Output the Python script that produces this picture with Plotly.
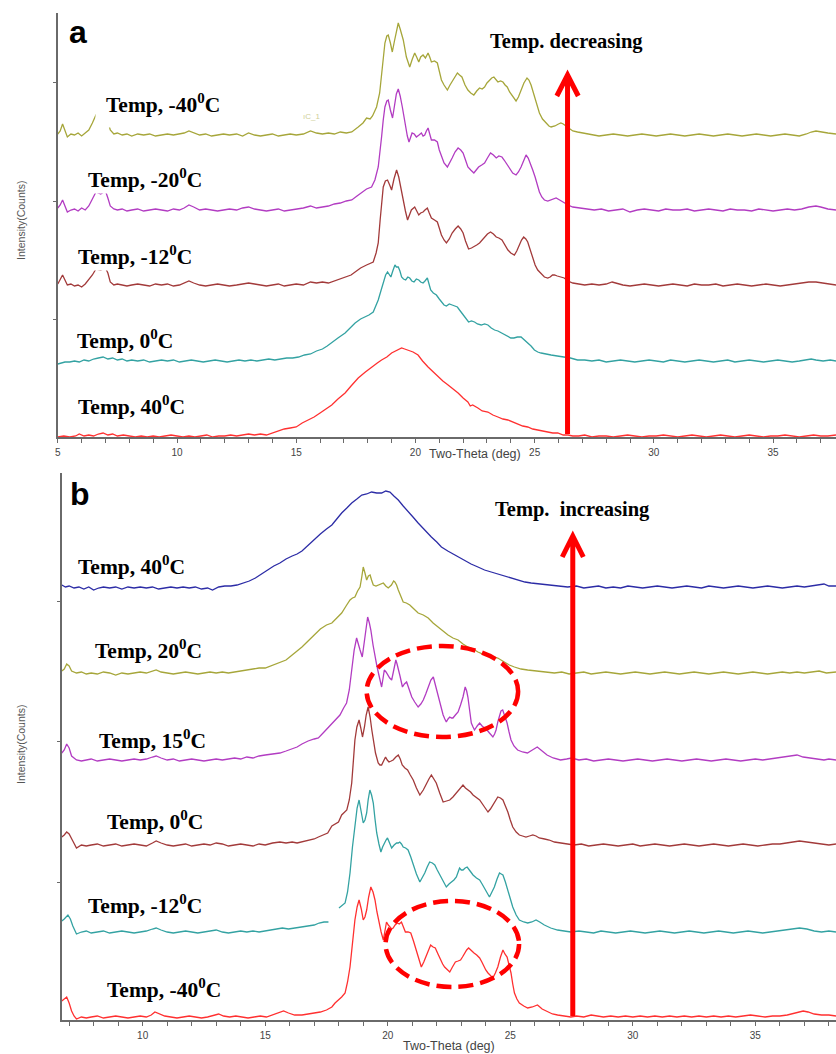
import plotly.graph_objects as go

W, H = 836, 1054

# ---------------- Panel a : cooling run (2-theta in deg, counts above own baseline) ----------------
A_M40 = [(5.0,1),(5.1,4),(5.2,11),(5.3,5),(5.4,-2),(5.55,1),(5.7,0),(5.85,2),(6.0,-1),(6.15,2),(6.3,5),(6.45,12),(6.6,20),(6.8,17),(7.0,20),(7.1,14),(7.2,5),(7.35,1),(7.5,2),(7.7,0),(7.9,1),(8.1,-1),(8.35,1),(8.6,0),(8.85,1),(9.1,-1),(9.35,0),(9.6,1),(9.85,0),(10.1,1),(10.3,2),(10.5,4),(10.7,2),(10.95,0),(11.2,1),(11.45,-1),(11.7,0),(11.95,1),(12.2,0),(12.5,1),(12.75,-1),(13.0,2),(13.25,0),(13.5,-1),(13.75,0),(14.0,1),(14.25,-1),(14.5,0),(14.75,1),(15.0,0),(15.3,1),(15.6,4),(15.85,2),(16.1,1),(16.35,2),(16.6,1),(16.85,3),(17.1,2),(17.33,3),(17.6,8),(17.8,12),(17.95,17),(18.1,16),(18.2,19),(18.37,28),(18.5,42),(18.58,58),(18.66,78),(18.72,92),(18.8,99),(18.86,100),(18.95,92),(19.03,83),(19.12,94),(19.22,108),(19.28,112),(19.36,106),(19.49,95),(19.62,78),(19.76,68),(19.87,76),(19.97,82),(20.05,78),(20.14,73),(20.22,78),(20.32,80),(20.42,77),(20.53,82),(20.6,78),(20.67,73),(20.8,74),(20.92,72),(21.0,64),(21.09,55),(21.2,50),(21.34,45),(21.45,50),(21.58,55),(21.68,60),(21.76,62),(21.85,60),(21.95,58),(22.08,50),(22.2,45),(22.32,42),(22.45,40),(22.57,44),(22.69,47),(22.8,46),(22.9,48),(23.0,52),(23.1,55),(23.2,57),(23.29,58),(23.38,55),(23.46,53),(23.57,54),(23.67,53),(23.76,50),(23.85,48),(23.95,43),(24.08,38),(24.15,36),(24.22,34),(24.32,38),(24.43,45),(24.55,52),(24.68,57),(24.76,55),(24.85,50),(24.93,43),(25.02,35),(25.1,28),(25.2,22),(25.33,16),(25.48,12),(25.6,9),(25.69,8),(25.85,9),(26.0,11),(26.1,12),(26.2,11),(26.31,9),(26.45,6),(26.6,4),(26.8,3),(27.0,2),(27.2,1),(27.45,0),(27.7,-1),(28.0,0),(28.3,1),(28.6,0),(28.9,-1),(29.2,0),(29.5,1),(29.8,0),(30.1,-1),(30.4,0),(30.7,1),(31.0,0),(31.3,-1),(31.6,0),(31.9,1),(32.2,0),(32.5,-1),(32.8,0),(33.1,1),(33.4,0),(33.7,-1),(34.0,0),(34.3,1),(34.6,0),(34.9,-1),(35.2,0),(35.5,1),(35.8,0),(36.1,-1),(36.4,1),(36.6,3),(36.8,4),(37.0,3),(37.3,2),(37.64,1)]

A_M20 = [(5.0,2),(5.1,5),(5.2,10),(5.3,4),(5.4,-2),(5.55,0),(5.7,1),(5.85,-1),(6.0,2),(6.15,0),(6.3,4),(6.45,11),(6.6,18),(6.8,16),(7.0,19),(7.1,12),(7.2,4),(7.35,1),(7.5,0),(7.7,1),(7.9,-1),(8.1,0),(8.35,1),(8.6,-1),(8.85,0),(9.1,1),(9.35,0),(9.6,-1),(9.85,1),(10.1,0),(10.3,2),(10.5,5),(10.7,3),(10.95,0),(11.2,1),(11.45,0),(11.7,-1),(11.95,0),(12.2,1),(12.5,0),(12.75,2),(13.0,3),(13.25,1),(13.5,0),(13.75,-1),(14.0,0),(14.25,1),(14.5,-1),(14.75,0),(15.0,1),(15.3,2),(15.6,4),(15.85,2),(16.1,3),(16.35,4),(16.6,6),(16.85,7),(17.1,9),(17.33,10),(17.55,14),(17.8,18),(17.95,21),(18.16,23),(18.3,30),(18.44,43),(18.52,58),(18.58,73),(18.65,90),(18.72,103),(18.8,109),(18.86,110),(18.95,100),(19.04,92),(19.12,104),(19.2,116),(19.28,121),(19.36,114),(19.45,103),(19.52,92),(19.59,83),(19.66,74),(19.73,68),(19.8,73),(19.86,77),(19.95,76),(20.04,73),(20.15,75),(20.25,77),(20.32,74),(20.39,75),(20.46,79),(20.53,82),(20.6,76),(20.67,70),(20.8,70),(20.92,68),(21.0,60),(21.09,53),(21.2,47),(21.34,43),(21.44,47),(21.54,52),(21.66,58),(21.79,62),(21.9,60),(22.0,57),(22.1,50),(22.2,43),(22.32,40),(22.45,37),(22.55,40),(22.65,43),(22.78,45),(22.9,47),(23.02,52),(23.15,57),(23.27,55),(23.39,52),(23.5,54),(23.63,53),(23.72,50),(23.81,47),(23.95,42),(24.08,37),(24.22,35),(24.32,38),(24.43,43),(24.55,50),(24.64,55),(24.73,52),(24.82,47),(24.92,40),(25.02,33),(25.1,25),(25.2,18),(25.3,13),(25.41,10),(25.55,9),(25.69,10),(25.8,11),(25.9,12),(26.05,10),(26.24,7),(26.4,5),(26.6,3),(26.9,2),(27.2,1),(27.5,0),(27.8,1),(28.1,-1),(28.4,0),(28.7,1),(29.0,-2),(29.3,0),(29.6,1),(29.9,0),(30.2,-1),(30.5,1),(30.8,0),(31.1,0),(31.4,1),(31.7,-1),(32.0,0),(32.3,1),(32.6,0),(32.9,-1),(33.2,1),(33.5,0),(33.8,0),(34.1,-1),(34.4,1),(34.7,0),(35.0,-1),(35.3,0),(35.6,1),(35.9,0),(36.2,1),(36.5,3),(36.8,4),(37.0,3),(37.3,1),(37.64,0)]

A_M12 = [(5.0,1),(5.1,5),(5.2,10),(5.3,5),(5.4,0),(5.55,1),(5.7,-1),(5.85,0),(6.0,-2),(6.15,1),(6.3,5),(6.45,10),(6.6,16),(6.8,15),(7.0,17),(7.1,12),(7.2,3),(7.35,0),(7.5,1),(7.7,0),(7.9,-1),(8.1,0),(8.35,1),(8.6,0),(8.85,-1),(9.1,1),(9.35,0),(9.6,1),(9.85,-1),(10.1,0),(10.3,2),(10.5,4),(10.7,2),(10.95,0),(11.2,-1),(11.45,0),(11.7,1),(11.95,0),(12.2,-1),(12.5,0),(12.75,1),(13.0,2),(13.25,1),(13.5,0),(13.75,-1),(14.0,0),(14.25,1),(14.5,-1),(14.75,0),(15.0,1),(15.3,0),(15.6,3),(15.85,2),(16.1,3),(16.35,2),(16.6,4),(16.85,6),(17.05,8),(17.3,10),(17.47,13),(17.7,17),(17.95,20),(18.1,22),(18.23,23),(18.35,32),(18.44,42),(18.52,65),(18.58,85),(18.65,98),(18.74,104),(18.83,105),(18.92,100),(19.0,95),(19.1,106),(19.21,115),(19.3,108),(19.4,95),(19.49,85),(19.58,74),(19.67,65),(19.75,71),(19.83,75),(19.97,78),(20.06,74),(20.14,70),(20.22,72),(20.32,73),(20.4,75),(20.5,77),(20.58,72),(20.67,67),(20.8,65),(20.92,63),(21.0,57),(21.09,50),(21.2,45),(21.3,42),(21.42,46),(21.54,52),(21.67,56),(21.79,59),(21.9,56),(22.0,52),(22.1,44),(22.23,36),(22.35,37),(22.45,38),(22.57,40),(22.69,42),(22.8,45),(22.9,48),(23.02,51),(23.15,53),(23.27,51),(23.39,48),(23.5,47),(23.63,45),(23.75,40),(23.88,35),(24.0,32),(24.15,30),(24.25,34),(24.36,40),(24.45,45),(24.54,48),(24.63,46),(24.71,43),(24.82,35),(24.92,27),(25.02,20),(25.13,15),(25.27,11),(25.41,8),(25.55,7),(25.65,8),(25.75,10),(25.83,10),(25.95,9),(26.1,8),(26.24,7),(26.4,4),(26.6,2),(26.85,1),(27.1,0),(27.4,1),(27.7,0),(28.0,1),(28.25,3),(28.4,2),(28.7,0),(29.0,-1),(29.3,0),(29.6,1),(29.9,0),(30.2,-1),(30.5,0),(30.8,1),(31.1,0),(31.4,-1),(31.7,1),(32.0,0),(32.3,0),(32.6,1),(32.9,-1),(33.2,0),(33.5,1),(33.8,0),(34.1,-1),(34.4,0),(34.7,1),(35.0,0),(35.3,-1),(35.6,0),(35.9,1),(36.2,2),(36.5,3),(36.8,3),(37.1,2),(37.4,1),(37.64,0)]

A_0 = [(5.0,-3),(5.15,-2),(5.3,-1),(5.5,-1),(5.7,0),(5.9,-1),(6.1,1),(6.3,0),(6.5,2),(6.7,3),(6.9,4),(7.1,2),(7.3,3),(7.5,1),(7.7,2),(7.9,0),(8.1,1),(8.35,0),(8.6,1),(8.85,-1),(9.1,0),(9.35,1),(9.6,0),(9.85,1),(10.1,-1),(10.35,0),(10.6,1),(10.85,0),(11.1,-1),(11.35,0),(11.6,1),(11.85,0),(12.1,-1),(12.35,0),(12.6,1),(12.85,0),(13.1,1),(13.35,0),(13.6,1),(13.85,2),(14.1,1),(14.35,2),(14.6,3),(14.85,3),(15.1,4),(15.35,6),(15.6,7),(15.85,10),(16.1,12),(16.3,15),(16.49,18),(16.75,23),(17.05,28),(17.25,33),(17.47,38),(17.7,42),(17.88,44),(18.05,46),(18.23,49),(18.35,55),(18.44,61),(18.55,70),(18.65,79),(18.75,86),(18.83,89),(18.9,86),(18.97,84),(19.05,90),(19.14,96),(19.2,94),(19.28,94),(19.35,90),(19.42,84),(19.5,82),(19.59,81),(19.68,84),(19.76,83),(19.85,80),(19.94,79),(20.04,82),(20.14,81),(20.22,79),(20.32,78),(20.4,80),(20.5,83),(20.57,77),(20.64,71),(20.75,68),(20.88,66),(21.0,62),(21.09,59),(21.2,56),(21.3,55),(21.42,57),(21.54,56),(21.65,55),(21.76,54),(21.85,51),(21.95,48),(22.1,43),(22.23,39),(22.35,40),(22.48,39),(22.6,37),(22.76,36),(22.9,37),(23.04,36),(23.18,33),(23.32,31),(23.46,30),(23.6,28),(23.74,26),(23.88,24),(24.0,23),(24.13,23),(24.28,24),(24.43,24),(24.57,21),(24.71,19),(24.85,15),(24.99,11),(25.13,9),(25.27,8),(25.45,7),(25.69,6),(25.95,5),(26.24,4),(26.5,3),(26.8,1),(27.1,1),(27.4,0),(27.7,1),(28.0,-1),(28.3,0),(28.6,1),(28.9,0),(29.2,-1),(29.5,0),(29.8,1),(30.1,0),(30.4,-1),(30.7,1),(31.0,0),(31.3,-1),(31.6,0),(31.9,1),(32.2,0),(32.5,-1),(32.8,0),(33.1,1),(33.4,-1),(33.7,0),(34.0,1),(34.3,0),(34.6,-1),(34.9,0),(35.2,1),(35.5,0),(35.8,-1),(36.1,0),(36.4,1),(36.6,2),(36.8,1),(37.1,0),(37.4,1),(37.64,0)]

A_40 = [(5.0,0),(5.25,1),(5.5,0),(5.75,1),(5.9,3),(6.1,1),(6.3,2),(6.5,1),(6.7,3),(6.9,4),(7.1,2),(7.3,3),(7.5,1),(7.75,2),(8.0,1),(8.25,0),(8.5,1),(8.75,0),(9.0,1),(9.25,0),(9.5,1),(9.75,2),(10.0,1),(10.25,0),(10.5,1),(10.75,0),(11.0,1),(11.25,2),(11.5,0),(11.75,1),(12.0,1),(12.25,2),(12.5,1),(12.75,2),(13.0,3),(13.25,2),(13.5,3),(13.75,2),(14.0,4),(14.25,6),(14.5,8),(14.75,9),(15.0,10),(15.25,14),(15.5,17),(15.75,20),(16.0,24),(16.25,28),(16.49,32),(16.75,38),(17.05,44),(17.3,51),(17.6,59),(17.9,65),(18.16,70),(18.4,74),(18.58,77),(18.8,80),(19.0,84),(19.2,86),(19.42,89),(19.55,88),(19.7,87),(19.9,85),(20.11,82),(20.3,76),(20.53,70),(20.75,65),(20.95,60),(21.15,56),(21.37,52),(21.58,48),(21.79,44),(22.0,39),(22.2,35),(22.3,31),(22.4,32),(22.62,29),(22.8,26),(23.04,25),(23.25,22),(23.46,20),(23.67,18),(23.88,17),(24.08,15),(24.29,13),(24.5,11),(24.71,10),(24.92,8),(25.13,7),(25.34,6),(25.55,5),(25.76,4),(25.97,4),(26.2,2),(26.4,2),(26.6,1),(26.85,1),(27.1,2),(27.4,0),(27.7,1),(28.0,1),(28.3,0),(28.6,1),(28.9,2),(29.2,1),(29.5,0),(29.8,1),(30.1,1),(30.4,2),(30.7,1),(31.0,0),(31.3,1),(31.6,2),(31.9,1),(32.2,0),(32.5,1),(32.8,2),(33.1,1),(33.4,0),(33.7,1),(34.0,2),(34.3,1),(34.6,0),(34.9,1),(35.2,1),(35.5,2),(35.8,1),(36.1,0),(36.4,1),(36.7,2),(37.0,1),(37.3,1),(37.64,2)]

# ---------------- Panel b : heating run ----------------
B_40 = [(6.7,2),(6.85,0),(7.0,1),(7.2,-1),(7.4,0),(7.6,-2),(7.8,0),(8.0,-3),(8.2,-1),(8.4,0),(8.65,-1),(8.9,0),(9.15,-2),(9.4,0),(9.65,-1),(9.9,0),(10.15,-1),(10.4,0),(10.65,-2),(10.9,-1),(11.15,0),(11.4,-1),(11.65,0),(11.9,-1),(12.15,0),(12.4,-2),(12.65,-1),(12.85,-3),(13.1,0),(13.35,1),(13.6,1),(13.85,2),(14.1,4),(14.35,6),(14.6,9),(14.85,13),(15.1,17),(15.35,21),(15.6,24),(15.85,28),(16.1,31),(16.3,33),(16.5,36),(16.75,42),(17.0,48),(17.25,53),(17.5,58),(17.72,62),(17.92,68),(18.12,74),(18.33,79),(18.53,84),(18.74,88),(18.94,92),(19.14,93),(19.34,95),(19.55,94),(19.75,94),(19.92,96),(20.09,95),(20.25,91),(20.43,87),(20.63,81),(20.83,75),(21.03,70),(21.24,64),(21.5,57),(21.78,50),(22.0,45),(22.19,40),(22.45,36),(22.73,32),(22.95,29),(23.14,27),(23.4,23),(23.68,20),(23.95,17),(24.22,15),(24.5,13),(24.76,11),(25.05,9),(25.31,7),(25.6,5),(25.85,4),(26.2,3),(26.52,2),(26.9,1),(27.34,0),(27.7,1),(28.0,-1),(28.3,0),(28.6,1),(28.9,-1),(29.2,0),(29.5,-1),(29.8,1),(30.1,0),(30.4,-1),(30.7,0),(31.0,1),(31.3,0),(31.6,-1),(31.9,0),(32.2,1),(32.5,0),(32.8,-1),(33.1,1),(33.4,0),(33.7,-1),(34.0,0),(34.3,1),(34.6,0),(34.9,-1),(35.2,0),(35.5,1),(35.8,0),(36.1,-1),(36.4,0),(36.7,1),(37.0,0),(37.3,1),(37.6,2),(37.8,3),(38.0,1),(38.29,1)]

B_20 = [(6.7,2),(6.8,4),(6.9,9),(7.0,7),(7.1,2),(7.3,0),(7.5,1),(7.7,-1),(7.9,0),(8.15,-1),(8.4,1),(8.65,0),(8.9,-2),(9.15,0),(9.4,-1),(9.65,0),(9.9,1),(10.15,0),(10.4,2),(10.55,3),(10.75,1),(11.0,0),(11.25,-1),(11.5,0),(11.75,1),(12.0,0),(12.25,-1),(12.5,0),(12.75,1),(13.0,0),(13.25,1),(13.5,0),(13.75,1),(14.0,2),(14.25,3),(14.5,4),(14.75,5),(15.0,5),(15.3,8),(15.6,11),(15.85,13),(16.1,18),(16.3,22),(16.5,26),(16.75,32),(17.0,38),(17.25,44),(17.5,48),(17.72,50),(17.92,55),(18.12,60),(18.3,67),(18.46,73),(18.56,75),(18.66,76),(18.77,82),(18.87,86),(18.94,96),(19.0,106),(19.07,100),(19.14,93),(19.21,97),(19.28,98),(19.34,93),(19.41,88),(19.52,87),(19.62,88),(19.72,89),(19.82,90),(19.92,87),(20.02,85),(20.15,88),(20.24,92),(20.29,91),(20.36,88),(20.43,83),(20.53,76),(20.63,71),(20.76,70),(20.9,68),(21.07,64),(21.24,60),(21.45,58),(21.65,55),(21.85,50),(22.05,46),(22.25,42),(22.46,38),(22.66,35),(22.87,33),(23.07,29),(23.27,26),(23.48,24),(23.68,21),(23.88,19),(24.09,18),(24.29,16),(24.49,15),(24.62,13),(24.76,11),(24.96,8),(25.17,6),(25.44,4),(25.71,3),(26.05,2),(26.39,1),(26.8,0),(27.1,1),(27.4,-1),(27.7,0),(28.0,1),(28.3,-1),(28.6,0),(28.9,1),(29.2,0),(29.5,-1),(29.8,0),(30.1,1),(30.4,0),(30.7,-1),(31.0,0),(31.3,1),(31.6,0),(31.9,-1),(32.2,0),(32.5,1),(32.8,0),(33.1,-1),(33.4,0),(33.7,1),(34.0,0),(34.3,-1),(34.6,0),(34.9,1),(35.2,0),(35.5,-1),(35.8,0),(36.1,1),(36.4,0),(36.7,1),(37.0,0),(37.3,1),(37.6,2),(37.9,0),(38.29,1)]

B_15 = [(6.7,7),(6.8,10),(6.9,16),(7.0,12),(7.1,4),(7.3,0),(7.5,-1),(7.7,0),(7.9,1),(8.15,-1),(8.4,0),(8.65,1),(8.9,0),(9.15,-1),(9.4,0),(9.65,1),(9.9,0),(10.15,1),(10.4,3),(10.55,4),(10.75,2),(11.0,0),(11.25,1),(11.5,-1),(11.75,0),(12.0,1),(12.25,0),(12.5,-1),(12.75,0),(13.0,1),(13.25,0),(13.5,1),(13.75,2),(14.0,1),(14.25,3),(14.5,2),(14.75,4),(15.0,5),(15.3,6),(15.6,7),(15.85,9),(16.1,11),(16.3,13),(16.5,16),(16.75,19),(17.0,21),(17.17,22),(17.4,28),(17.6,33),(17.8,39),(18.05,45),(18.2,52),(18.32,57),(18.43,70),(18.53,90),(18.63,110),(18.73,122),(18.8,117),(18.87,110),(18.96,103),(19.02,115),(19.07,127),(19.13,137),(19.18,143),(19.25,137),(19.31,130),(19.4,115),(19.48,103),(19.55,95),(19.62,87),(19.69,80),(19.75,73),(19.81,82),(19.86,90),(19.93,88),(20.0,85),(20.08,82),(20.16,80),(20.24,88),(20.33,100),(20.38,96),(20.43,92),(20.5,84),(20.6,73),(20.68,76),(20.77,78),(20.87,70),(20.98,63),(21.1,58),(21.24,53),(21.35,56),(21.45,60),(21.55,66),(21.65,73),(21.76,80),(21.86,83),(21.95,74),(22.05,63),(22.15,53),(22.26,45),(22.33,41),(22.39,38),(22.46,41),(22.53,43),(22.6,42),(22.66,42),(22.76,45),(22.87,48),(22.97,55),(23.07,63),(23.16,73),(23.22,69),(23.27,63),(23.34,50),(23.41,37),(23.48,33),(23.54,30),(23.65,34),(23.75,37),(23.85,34),(23.95,32),(24.05,30),(24.15,27),(24.22,25),(24.29,23),(24.36,26),(24.42,30),(24.49,38),(24.56,45),(24.62,49),(24.69,50),(24.78,44),(24.87,37),(24.95,28),(25.03,20),(25.15,14),(25.3,10),(25.5,8),(25.7,7),(25.9,10),(26.1,13),(26.3,9),(26.5,5),(26.75,2),(27.05,0),(27.3,1),(27.5,2),(27.8,0),(28.1,1),(28.4,-1),(28.7,0),(29.0,1),(29.3,0),(29.6,-1),(29.9,0),(30.2,1),(30.5,0),(30.8,-1),(31.1,0),(31.4,1),(31.7,0),(32.0,-1),(32.3,0),(32.6,1),(32.9,0),(33.2,-1),(33.5,0),(33.8,1),(34.1,0),(34.4,-1),(34.7,0),(35.0,1),(35.3,0),(35.6,1),(35.9,2),(36.2,3),(36.5,4),(36.7,5),(36.95,3),(37.2,2),(37.5,1),(37.8,0),(38.0,1),(38.29,0)]

B_0 = [(6.7,8),(6.8,10),(6.9,13),(7.0,11),(7.15,4),(7.3,-3),(7.5,0),(7.7,-1),(7.9,0),(8.15,1),(8.4,-1),(8.65,0),(8.9,1),(9.15,-1),(9.4,0),(9.65,1),(9.9,0),(10.15,-1),(10.4,2),(10.55,4),(10.75,2),(11.0,0),(11.25,-1),(11.5,0),(11.75,1),(12.0,-1),(12.25,0),(12.5,1),(12.75,0),(13.0,2),(13.25,1),(13.5,-1),(13.75,0),(14.0,1),(14.25,0),(14.5,-1),(14.75,1),(15.0,0),(15.3,2),(15.6,3),(15.85,2),(16.1,3),(16.3,2),(16.5,3),(16.75,4),(17.0,6),(17.17,8),(17.4,10),(17.55,12),(17.72,19),(17.99,23),(18.12,30),(18.25,33),(18.33,35),(18.43,45),(18.53,62),(18.6,85),(18.66,105),(18.74,118),(18.83,125),(18.9,117),(18.97,108),(19.05,118),(19.12,130),(19.2,138),(19.28,128),(19.35,115),(19.41,105),(19.5,92),(19.61,82),(19.68,80),(19.75,80),(19.83,85),(19.91,88),(19.98,85),(20.05,83),(20.14,84),(20.22,85),(20.33,88),(20.43,90),(20.51,86),(20.59,80),(20.7,77),(20.81,75),(20.92,70),(21.04,65),(21.17,57),(21.31,50),(21.45,55),(21.58,62),(21.68,66),(21.78,70),(21.88,66),(21.98,62),(22.12,52),(22.26,43),(22.4,44),(22.53,45),(22.66,48),(22.8,52),(22.94,56),(23.07,60),(23.17,57),(23.27,55),(23.38,53),(23.48,50),(23.62,47),(23.75,45),(23.92,39),(24.09,33),(24.19,36),(24.29,40),(24.39,44),(24.49,48),(24.6,47),(24.7,45),(24.8,39),(24.9,33),(25.0,25),(25.1,18),(25.24,13),(25.37,10),(25.5,9),(25.64,8),(25.78,9),(25.92,10),(26.05,9),(26.18,7),(26.4,6),(26.59,5),(26.8,3),(27.07,2),(27.3,1),(27.6,0),(27.9,1),(28.2,-1),(28.5,0),(28.8,1),(29.1,0),(29.4,-1),(29.7,0),(30.0,1),(30.3,-1),(30.6,0),(30.9,1),(31.2,0),(31.5,-1),(31.8,0),(32.1,1),(32.4,0),(32.7,-1),(33.0,0),(33.3,1),(33.6,0),(33.9,-1),(34.2,0),(34.5,1),(34.8,0),(35.1,-1),(35.4,0),(35.7,1),(36.0,1),(36.3,2),(36.6,3),(36.8,4),(37.1,3),(37.4,2),(37.7,1),(38.0,0),(38.29,1)]

# the -12 °C scan has a short missing stretch just below 18°
B_M12 = [(6.7,11),(6.8,13),(6.95,17),(7.05,13),(7.15,6),(7.3,-2),(7.5,0),(7.7,1),(7.9,-1),(8.15,0),(8.4,1),(8.65,-1),(8.9,0),(9.15,1),(9.4,0),(9.65,-1),(9.9,0),(10.15,1),(10.4,3),(10.55,4),(10.75,2),(11.0,0),(11.25,-1),(11.5,0),(11.75,1),(12.0,0),(12.25,-1),(12.5,0),(12.75,1),(13.0,2),(13.25,0),(13.5,-1),(13.75,0),(14.0,1),(14.25,0),(14.5,1),(14.75,0),(15.0,1),(15.25,2),(15.45,3),(15.7,4),(15.95,3),(16.2,4),(16.5,5),(16.75,6),(17.0,7),(17.2,9),(17.4,10),(17.58,10),(17.8,None),(18.01,24),(18.14,27),(18.26,29),(18.36,40),(18.46,59),(18.56,85),(18.66,109),(18.75,124),(18.83,132),(18.92,120),(19.0,109),(19.07,112),(19.14,119),(19.2,132),(19.27,142),(19.34,137),(19.41,129),(19.48,113),(19.55,99),(19.64,88),(19.72,80),(19.79,85),(19.86,89),(19.93,92),(19.99,94),(20.08,88),(20.16,84),(20.26,87),(20.36,89),(20.43,89),(20.49,90),(20.56,88),(20.63,85),(20.73,84),(20.83,82),(20.94,75),(21.04,67),(21.17,58),(21.31,50),(21.41,54),(21.51,59),(21.61,65),(21.71,70),(21.82,69),(21.92,67),(22.02,62),(22.12,57),(22.26,50),(22.39,45),(22.5,48),(22.6,50),(22.7,52),(22.8,55),(22.87,60),(22.93,64),(23.0,62),(23.07,62),(23.16,64),(23.24,65),(23.36,61),(23.48,57),(23.62,54),(23.75,52),(23.85,48),(23.95,44),(24.05,40),(24.15,35),(24.25,40),(24.35,45),(24.46,53),(24.56,59),(24.63,58),(24.7,57),(24.8,50),(24.9,42),(25.0,33),(25.1,25),(25.24,17),(25.37,12),(25.55,10),(25.71,9),(25.88,10),(26.05,12),(26.2,10),(26.39,7),(26.65,4),(26.93,2),(27.2,1),(27.47,0),(27.8,1),(28.1,0),(28.4,-1),(28.7,1),(29.0,0),(29.3,-1),(29.6,0),(29.9,1),(30.2,0),(30.5,-1),(30.8,0),(31.1,1),(31.4,0),(31.7,-1),(32.0,0),(32.3,1),(32.6,0),(32.9,-1),(33.2,0),(33.5,1),(33.8,0),(34.1,-1),(34.4,0),(34.7,1),(35.0,0),(35.3,-1),(35.6,0),(35.9,1),(36.2,2),(36.5,3),(36.8,4),(37.1,3),(37.4,1),(37.7,0),(38.0,1),(38.29,0)]

B_M40 = [(6.7,16),(6.8,18),(6.9,20),(7.0,14),(7.1,6),(7.2,1),(7.3,-2),(7.5,0),(7.7,-1),(7.9,0),(8.15,1),(8.4,-1),(8.65,0),(8.9,1),(9.15,0),(9.4,-1),(9.65,0),(9.9,1),(10.15,0),(10.35,2),(10.5,5),(10.7,3),(10.9,1),(11.15,0),(11.4,-1),(11.65,0),(11.9,1),(12.15,0),(12.4,-1),(12.65,0),(12.9,2),(13.1,3),(13.3,1),(13.55,0),(13.8,1),(14.05,0),(14.3,-1),(14.55,0),(14.8,1),(15.05,0),(15.3,2),(15.55,4),(15.75,6),(15.95,4),(16.2,2),(16.5,2),(16.75,3),(17.0,4),(17.25,5),(17.5,7),(17.72,10),(17.85,14),(17.99,17),(18.12,20),(18.26,24),(18.36,35),(18.46,50),(18.56,75),(18.66,97),(18.75,110),(18.83,117),(18.92,108),(19.0,97),(19.07,100),(19.14,107),(19.22,120),(19.31,130),(19.4,125),(19.48,117),(19.56,105),(19.64,94),(19.73,85),(19.82,77),(19.88,85),(19.95,95),(20.02,92),(20.09,90),(20.16,88),(20.22,89),(20.3,92),(20.39,94),(20.47,93),(20.56,95),(20.64,90),(20.72,85),(20.83,85),(20.94,84),(21.05,76),(21.17,67),(21.27,58),(21.37,50),(21.47,55),(21.58,62),(21.67,68),(21.75,72),(21.85,70),(21.94,69),(22.05,63),(22.15,57),(22.24,53),(22.32,50),(22.43,47),(22.53,45),(22.64,50),(22.76,55),(22.87,56),(22.97,57),(23.05,60),(23.14,64),(23.22,67),(23.3,69),(23.41,66),(23.52,64),(23.63,62),(23.75,59),(23.84,55),(23.92,50),(24.0,47),(24.09,44),(24.19,41),(24.29,39),(24.39,44),(24.49,50),(24.6,60),(24.7,67),(24.78,63),(24.87,60),(24.95,52),(25.03,44),(25.1,33),(25.17,24),(25.27,18),(25.37,14),(25.55,11),(25.71,9),(25.9,10),(26.11,12),(26.3,8),(26.52,5),(26.72,3),(26.93,2),(27.2,1),(27.47,0),(27.7,1),(28.0,0),(28.3,2),(28.5,1),(28.8,0),(29.1,1),(29.4,0),(29.7,1),(30.0,0),(30.3,1),(30.6,0),(30.9,1),(31.2,0),(31.5,1),(31.8,0),(32.1,1),(32.4,0),(32.7,1),(33.0,0),(33.3,1),(33.6,0),(33.9,1),(34.2,0),(34.5,1),(34.8,2),(35.1,1),(35.4,0),(35.7,1),(36.0,1),(36.3,2),(36.6,4),(36.8,5),(36.95,6),(37.15,5),(37.4,3),(37.7,2),(38.0,2),(38.29,1)]

A_LABELS = ["Temp, -40<sup>0</sup>C", "Temp, -20<sup>0</sup>C", "Temp, -12<sup>0</sup>C",
            "Temp, 0<sup>0</sup>C", "Temp, 40<sup>0</sup>C"]
B_LABELS = ["Temp, 40<sup>0</sup>C", "Temp, 20<sup>0</sup>C", "Temp, 15<sup>0</sup>C",
            "Temp, 0<sup>0</sup>C", "Temp, -12<sup>0</sup>C", "Temp, -40<sup>0</sup>C"]
A_TICKS_X = [5, 10, 15, 20, 25, 30, 35]
B_TICKS_X = [10, 15, 20, 25, 30, 35]

# ---------------- styling / layout constants ----------------
OLIVE, PURPLE, BROWN, TEAL, RED, BLUE = "#a6a63a", "#b23cc2", "#a23a3a", "#33a2a2", "#ff3030", "#2c2ca6"
A_SERIES = [A_M40, A_M20, A_M12, A_0, A_40]
A_COLORS = [OLIVE, PURPLE, BROWN, TEAL, RED]
A_OFFSETS = [302, 227, 152, 76, 0]
B_SERIES = [B_40, B_20, B_15, B_0, B_M12, B_M40]
B_COLORS = [BLUE, OLIVE, PURPLE, BROWN, TEAL, RED]
B_OFFSETS = [433, 347, 260, 175, 88, 3]

# label placement in pixels: (left edge of box, vertical centre, box padding)
A_LABEL_POS = [(92, 104, 10), (83, 179, 1), (73, 255, 1), (72, 340, 1), (73, 405, 1)]
B_LABEL_POS = [(73, 565, 1), (90, 649, 1), (94, 739, 1), (102, 820, 1), (83, 904, 1), (102, 988, 1)]


def px(xp):
    return xp / W


def py(yp):
    return 1 - yp / H


fig = go.Figure()


def add_series(series, colors, offsets, xa, ya, names):
    for pts, col, off, nm in zip(series, colors, offsets, names):
        xs = [p[0] for p in pts]
        ys = [None if p[1] is None else p[1] + off for p in pts]
        fig.add_trace(go.Scatter(x=xs, y=ys, mode="lines", name=nm,
                                 line=dict(color=col, width=1.3),
                                 xaxis=xa, yaxis=ya, showlegend=False,
                                 hoverinfo="skip"))


add_series(A_SERIES, A_COLORS, A_OFFSETS, "x", "y", A_LABELS)
add_series(B_SERIES, B_COLORS, B_OFFSETS, "x2", "y2", B_LABELS)

AXIS_GREY = "#6a6a6a"
tickfont = dict(family="Arial, Liberation Sans, sans-serif", size=10, color="#444")


def xaxis_cfg(domain, rng, ticks, anchor):
    return dict(domain=domain, range=rng, anchor=anchor,
                tickvals=ticks, ticktext=[str(t) for t in ticks],
                ticks="outside", ticklen=4, tickwidth=1, tickcolor=AXIS_GREY,
                minor=dict(dtick=1, tick0=0, ticks="outside", ticklen=4,
                           tickcolor=AXIS_GREY, tickwidth=1, showgrid=False),
                showline=True, linecolor=AXIS_GREY, linewidth=2,
                showgrid=False, zeroline=False, tickfont=tickfont, ticklabelstandoff=1)


def yaxis_cfg(domain, rng, tv, anchor):
    return dict(domain=domain, range=rng, anchor=anchor, tickvals=tv,
                ticks="outside", ticklen=3, tickcolor=AXIS_GREY, tickwidth=1,
                showticklabels=False, showline=True, linecolor=AXIS_GREY,
                linewidth=2, showgrid=False, zeroline=False)


fig.update_layout(
    width=W, height=H, margin=dict(l=0, r=0, t=0, b=0),
    paper_bgcolor="white", plot_bgcolor="white",
    xaxis=xaxis_cfg([px(55), 1.0], [5, 37.64], A_TICKS_X, "y"),
    yaxis=yaxis_cfg([py(437), py(13)], [0, 424], [118, 236, 355], "x"),
    xaxis2=xaxis_cfg([px(59), 1.0], [6.7, 38.29], B_TICKS_X, "y2"),
    yaxis2=yaxis_cfg([py(1020), py(473)], [0, 547], [138, 279, 419], "x2"),
)

serif = dict(family="Liberation Serif, Times New Roman, serif", size=21.5,
             color="black", weight="bold")
ann = []
for txt, (lx, ly, pad) in zip(A_LABELS + B_LABELS, A_LABEL_POS + B_LABEL_POS):
    ann.append(dict(x=px(lx), y=py(ly), xref="paper", yref="paper", text=txt,
                    showarrow=False, xanchor="left", yanchor="middle", font=serif,
                    bgcolor="white", borderpad=pad))

heading = dict(family="Liberation Serif, Times New Roman, serif", size=20.5,
               color="black", weight="bold")
panel_font = dict(family="Arial, Liberation Sans, sans-serif", size=32, color="black", weight="bold")
small = dict(family="Arial, Liberation Sans, sans-serif", size=10.5, color="#555")
xtitle = dict(family="Arial, Liberation Sans, sans-serif", size=12.5, color="#444")

ann += [
    dict(x=px(566), y=py(42), xref="paper", yref="paper", text="Temp. decreasing",
         showarrow=False, xanchor="center", yanchor="middle", font=heading),
    dict(x=px(572), y=py(509), xref="paper", yref="paper", text="Temp.\u00a0 increasing",
         showarrow=False, xanchor="center", yanchor="middle", font=heading),
    dict(x=px(75), y=py(32), xref="paper", yref="paper", text="a", showarrow=False,
         xanchor="center", yanchor="middle", font=panel_font),
    dict(x=px(77), y=py(494), xref="paper", yref="paper", text="b", showarrow=False,
         xanchor="center", yanchor="middle", font=panel_font),
    dict(x=px(18), y=py(220), xref="paper", yref="paper", text="Intensity(Counts)",
         showarrow=False, textangle=-90, xanchor="center", yanchor="middle", font=small),
    dict(x=px(18), y=py(744), xref="paper", yref="paper", text="Intensity(Counts)",
         showarrow=False, textangle=-90, xanchor="center", yanchor="middle", font=small),
    dict(x=22.5, y=py(454), xref="x", yref="paper", text="Two-Theta (deg)",
         showarrow=False, xanchor="center", yanchor="middle", font=xtitle),
    dict(x=22.5, y=py(1046), xref="x2", yref="paper", text="Two-Theta (deg)",
         showarrow=False, xanchor="center", yanchor="middle", font=xtitle),
    dict(x=px(310), y=py(117), xref="paper", yref="paper", text="ıC_1",
         showarrow=False, xanchor="center", yanchor="middle",
         font=dict(family="Arial, Liberation Sans, sans-serif", size=8, color="#cfcf98")),
]
fig.update_layout(annotations=ann)

# red arrows (shaft + open chevron head) and dashed ellipses
ARROW_RED = "#ff0000"


def arrow_path(x, y0, y1, half_w, head_h):
    return (f"M {x},{y0} L {x},{y1} "
            f"M {x - half_w},{y1 - head_h} L {x},{y1} L {x + half_w},{y1 - head_h}")


shapes = [
    dict(type="path", xref="x", yref="y", path=arrow_path(26.38, 3, 362, 0.45, 21),
         line=dict(color=ARROW_RED, width=5)),
    dict(type="path", xref="x2", yref="y2", path=arrow_path(27.55, 4, 484, 0.43, 21),
         line=dict(color=ARROW_RED, width=5)),
    dict(type="circle", xref="x2", yref="y2", x0=19.14, x1=25.32, y0=283, y1=374,
         line=dict(color=ARROW_RED, width=4.5, dash="15px,7px")),
    dict(type="circle", xref="x2", yref="y2", x0=19.91, x1=25.36, y0=33, y1=119,
         line=dict(color=ARROW_RED, width=4.5, dash="15px,7px")),
]
fig.update_layout(shapes=shapes)

fig.write_html("out.html", config={"displayModeBar": False})
